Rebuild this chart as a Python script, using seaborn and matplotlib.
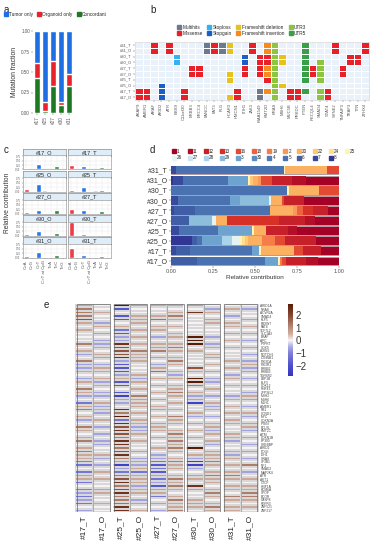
import numpy as np
import pandas as pd
import matplotlib
matplotlib.use("Agg")
import matplotlib.pyplot as plt
from matplotlib.colors import ListedColormap, LinearSegmentedColormap
from matplotlib.patches import Rectangle
from matplotlib.lines import Line2D
import seaborn as sns

sns.set_theme(style="white")
plt.rcParams["font.family"] = ["Liberation Sans", "DejaVu Sans"]
plt.rcParams["axes.linewidth"] = 0.4

# ---------------- data ----------------
# a: mutation fractions per patient
a_samples = ["#17", "#25", "#27", "#30", "#31"]
a_concordant = [0.43, 0.03, 0.33, 0.10, 0.33]
a_organoid = [0.18, 0.10, 0.30, 0.04, 0.15]
a_tumor = [0.39, 0.87, 0.37, 0.86, 0.52]

# b: mutation calls per gene, rows top->bottom as in b_rows
b_rows = ["#31_T", "#31_O", "#30_T", "#30_O", "#27_T", "#27_O", "#25_T", "#25_O", "#17_T", "#17_O"]
b_genes = ["AKAP9", "AMER1", "ARAF", "ARID2", "ATR", "BBS9", "C11orf30", "ERBB3", "ERCC4",
           "FANCC", "FAT3", "FLG", "HCAR3", "HMCN1", "ITIH1", "JAK3", "KIAA1549", "KMT2D",
           "KRAS", "MSH6", "MUC5B", "PRKDC", "PTEN", "RECQL4", "SMAD4", "STAT4", "SYNE2",
           "TNFAIP3", "TRAF3", "TTN", "ZFHX4"]
b_calls = ["........MM", "........MM", "MM........", ".......GGG", "MM........", "..LL......",
           "........MM", "....MM....", "....MM....", "HH........", "MM........", "HH........",
           "DD...DD..D", "........MM", "..GGMM....", "MM........", "..MMMM..HH", "IIMMIIM.I.",
           "3333333333", "..DD...D..", "........MM", "........MM", "5555555.5.", "....MM....",
           "...3333.33", "........MM", "MM........", "....MM....", "..MM......", "..MM......",
           "MM........"]
b_types = ["Multihits", "Missense", "Stoploss", "Stopgain", "Frameshift deletion",
           "Frameshift insertion", "UTR3", "UTR5"]
b_codes = {".": 0, "H": 1, "M": 2, "L": 3, "G": 4, "D": 5, "I": 6, "3": 7, "5": 8}

# c: 7-class mutation spectrum
c_types = ["C>A", "C>G", "C>T", "C>T at CpG", "T>A", "T>C", "T>G"]
c17_O = [0.10, 0.03, 0.30, 0.05, 0.04, 0.18, 0.05]
c17_T = [0.25, 0.03, 0.22, 0.04, 0.05, 0.12, 0.05]
c25_O = [0.12, 0.03, 0.45, 0.06, 0.04, 0.05, 0.04]
c25_T = [0.10, 0.03, 0.25, 0.05, 0.06, 0.10, 0.05]
c27_O = [0.07, 0.03, 0.22, 0.05, 0.05, 0.20, 0.05]
c27_T = [0.25, 0.03, 0.20, 0.05, 0.05, 0.12, 0.05]
c30_O = [0.07, 0.03, 0.28, 0.05, 0.05, 0.17, 0.05]
c30_T = [0.75, 0.02, 0.06, 0.02, 0.02, 0.05, 0.03]
c31_O = [0.06, 0.03, 0.30, 0.05, 0.05, 0.16, 0.05]
c31_T = [0.52, 0.02, 0.16, 0.03, 0.03, 0.08, 0.04]
c_values = {"#17_O": c17_O, "#17_T": c17_T, "#25_O": c25_O, "#25_T": c25_T,
            "#27_O": c27_O, "#27_T": c27_T, "#30_O": c30_O, "#30_T": c30_T,
            "#31_O": c31_O, "#31_T": c31_T}
c_grid = [("#17_O", "#17_T"), ("#25_O", "#25_T"), ("#27_O", "#27_T"),
          ("#30_O", "#30_T"), ("#31_O", "#31_T")]

# d: signature contributions
d_samples = ["#31_T", "#31_O", "#30_T", "#30_O", "#27_T", "#27_O", "#25_T", "#25_O", "#17_T", "#17_O"]
d_sigs = ["1", "11", "12", "13", "16", "18", "19", "2", "20", "22", "24", "25",
          "26", "27", "28", "29", "3", "30", "4", "5", "6", "7", "8"]
d31_T = {"7": 0.03, "5": 0.64, "25": 0.01, "20": 0.25, "16": 0.07}
d31_O = {"8": 0.012, "7": 0.06, "5": 0.27, "3": 0.12, "25": 0.01, "20": 0.03, "22": 0.018,
         "2": 0.018, "16": 0.07, "12": 0.12, "11": 0.08, "1": 0.2}
d30_T = {"5": 0.69, "25": 0.01, "20": 0.18, "16": 0.12}
d30_O = {"7": 0.04, "5": 0.31, "3": 0.06, "29": 0.17, "26": 0.014, "20": 0.065, "16": 0.014,
         "12": 0.115, "1": 0.21}
d27_T = {"7": 0.02, "6": 0.12, "5": 0.45, "20": 0.135, "2": 0.025, "18": 0.035, "13": 0.06,
         "12": 0.09, "1": 0.065}
d27_O = {"6": 0.105, "29": 0.14, "26": 0.025, "20": 0.065, "13": 0.305, "12": 0.16, "11": 0.06,
         "1": 0.14}
d25_T = {"7": 0.05, "5": 0.23, "3": 0.2, "25": 0.014, "20": 0.07, "12": 0.13, "11": 0.05, "1": 0.25}
d25_O = {"8": 0.125, "6": 0.03, "5": 0.03, "3": 0.12, "28": 0.06, "26": 0.04, "25": 0.02, "24": 0.02,
         "22": 0.014, "20": 0.085, "19": 0.08, "16": 0.06, "12": 0.18, "1": 0.14}
d17_T = {"7": 0.03, "6": 0.08, "5": 0.37, "3": 0.045, "25": 0.008, "20": 0.2, "16": 0.05,
         "12": 0.11, "1": 0.105}
d17_O = {"6": 0.155, "5": 0.405, "3": 0.08, "25": 0.01, "19": 0.016, "16": 0.024, "12": 0.12,
         "11": 0.07, "1": 0.125}
d_values = {"#31_T": d31_T, "#31_O": d31_O, "#30_T": d30_T, "#30_O": d30_O, "#27_T": d27_T,
            "#27_O": d27_O, "#25_T": d25_T, "#25_O": d25_O, "#17_T": d17_T, "#17_O": d17_O}

# e: expression z-scores, one digit per gene, value = (digit - 4) * 0.6
e_samples = ["#17_T", "#17_O", "#25_T", "#25_O", "#27_T", "#27_O", "#30_T", "#30_O", "#31_T", "#31_O"]
e_genes = ["ARID1A", "NRAS", "ACVR2A", "SMAD4", "KLF5", "FBXW7", "FAT4", "TCF7L2", "SLC1A3", "BRAF",
           "APC", "PTPRT", "SOX9", "AXIN2", "NOTCH1", "CTNNB1", "PIK3CA", "PIK3R1", "ERBB2", "ERBB3",
           "TGFBR2", "LRP1B", "ELF3", "CDK12", "RNF43", "ZFP36L2", "MSH2", "MSH6", "MLH1", "AMER1",
           "RB1", "CCND1", "MYC", "CDKN2A", "PTEN", "BCL9L", "KMT2C", "ATM", "CDKN1B", "EP300",
           "CREBBP", "ARID2", "POLE", "IDH1", "GNAS", "SF3B1", "NF1", "SMAD2", "MAP2K4", "ATR",
           "AKT1", "CTCF", "HNF1A", "KDM6A", "SPOP", "BCOR", "CASP8", "FGFR3", "ZNF521", "ZNF217"]
e17_T = "566615454446453463354354653425645346545645655624235246323243"
e17_O = "445443543433545343554535433453534543434334453434545443544544"
e25_T = "914114521338777831113511410334869287876886786303267867866288"
e25_O = "344535454545465554445354546355454553354544343335255535543345"
e27_T = "544524554345364343524543454345345435543445433212132313524343"
e27_O = "545654545545654565453545565454546554565656545655456565456556"
e30_T = "348444444999454444754996453304453434543449453003435483445354"
e30_O = "435435444343545345434334543453543455354534355654565545654565"
e31_T = "454345543454544454543545443545454554455344535454565455465455"
e31_O = "434434543434343435334343435343453435343434343464345455665454"
e_columns = [e17_T, e17_O, e25_T, e25_O, e27_T, e27_O, e30_T, e30_O, e31_T, e31_O]

# ---------------- styling ----------------
W, H = 375, 550
TXT = "#333333"


def box(x0, y0, x1, y1):
    # pixel box with top-left origin -> figure rect
    return [x0 / W, 1 - y1 / H, (x1 - x0) / W, (y1 - y0) / H]


def square(color):
    return Line2D([], [], marker="s", linestyle="", markersize=2.6, color=color)


fig = plt.figure(figsize=(3.75, 5.5), dpi=100)
for letter, (px, py) in zip("abcde", [(4, 10), (150, 10), (4, 150), (150, 150), (44, 305)]):
    fig.text(px / W, 1 - py / H, letter, fontsize=7, va="center", ha="left", color="#222222")

# ---------------- a ----------------
a_colors = ["#1e6fe3", "#e8232b", "#1d7a22"]
conc = np.array(a_concordant)
org = np.array(a_organoid)
tum = np.array(a_tumor)
axa = fig.add_axes(box(33, 31, 73, 113))
sns.barplot(x=a_samples, y=conc + org + tum, color=a_colors[0], saturation=1, width=0.82, ax=axa)
sns.barplot(x=a_samples, y=conc + org, color=a_colors[1], saturation=1, width=0.82, ax=axa)
sns.barplot(x=a_samples, y=conc, color=a_colors[2], saturation=1, width=0.82, ax=axa)
axa.set_ylim(0, 1)
axa.set_yticks([0, 0.25, 0.5, 0.75, 1.0])
axa.set_yticklabels(["0.00", "0.25", "0.50", "0.75", "1.00"])
axa.tick_params(labelsize=3.3, colors="#555555", length=1.2, width=0.3, pad=1, left=True, bottom=True)
plt.setp(axa.get_xticklabels(), rotation=90)
axa.set_ylabel("Mutation fraction", fontsize=4.9, color=TXT, labelpad=2)
sns.despine(ax=axa, left=True, bottom=True)
fig.legend([square(c) for c in a_colors], ["Tumor only", "Organoid only", "Concordant"],
           loc="upper left", bbox_to_anchor=(4 / W, 1 - 12 / H), ncol=3, fontsize=3.4,
           frameon=False, handlelength=0.8, handletextpad=0.2, columnspacing=1.0,
           borderpad=0, borderaxespad=0)

# ---------------- b ----------------
b_colors = ["#e9f2fb", "#6b7a8f", "#e8202a", "#34b1ee", "#1a5fc8", "#e8c21c", "#f58a1f", "#8cc63e", "#38a046"]
b_mat = np.array([[b_codes[ch] for ch in s] for s in b_calls]).T
axb = fig.add_axes(box(135, 42, 369, 100))
sns.heatmap(pd.DataFrame(b_mat, index=b_rows, columns=b_genes), cmap=ListedColormap(b_colors),
            vmin=-0.5, vmax=8.5, cbar=False, linewidths=0.5, linecolor="white",
            xticklabels=True, yticklabels=True, ax=axb)
axb.tick_params(labelsize=3.0, colors="#555555", length=1.2, width=0.3, pad=1, left=True, bottom=True)
plt.setp(axb.get_xticklabels(), rotation=90)
plt.setp(axb.get_yticklabels(), rotation=0)
for sp in axb.spines.values():
    sp.set_visible(True)
    sp.set_color("#cccccc")
fig.legend([square(c) for c in b_colors[1:]], b_types, loc="upper left",
           bbox_to_anchor=(177 / W, 1 - 25 / H), ncol=4, fontsize=3.4, frameon=False,
           handlelength=0.8, handletextpad=0.3, columnspacing=1.0, labelspacing=0.15,
           borderpad=0, borderaxespad=0)

# ---------------- c ----------------
c_colors = ["#ee3b48", "#9a9a9a", "#2a78e8", "#f3a6d6", "#f5b865", "#2f8a3a", "#f7b0c8"]
for r, pair in enumerate(c_grid):
    for k, s in enumerate(pair):
        x0 = 23 if k == 0 else 68
        y0 = 148.5 + 22 * r
        sax = fig.add_axes(box(x0, y0, x0 + 43, y0 + 7))
        sax.set_facecolor("#deedf8")
        sax.set_xticks([])
        sax.set_yticks([])
        for sp in sax.spines.values():
            sp.set_color("#777777")
            sp.set_linewidth(0.4)
        sax.text(0.5, 0.45, s, ha="center", va="center", fontsize=4, color="#222222",
                 transform=sax.transAxes)
        ax = fig.add_axes(box(x0, y0 + 7, x0 + 43, y0 + 21))
        sns.barplot(x=c_types, y=c_values[s], hue=c_types, palette=c_colors, legend=False,
                    saturation=1, width=0.8, ax=ax)
        ax.set_ylim(0, 0.8)
        ax.set_yticks([0, 0.25, 0.5, 0.75])
        ax.grid(True, color="#e6e6e6", linewidth=0.3)
        ax.set_axisbelow(True)
        for sp in ax.spines.values():
            sp.set_color("#888888")
            sp.set_linewidth(0.4)
        ax.set_xlabel("")
        ax.set_ylabel("")
        ax.tick_params(length=1, width=0.3, pad=0.8, colors="#555555",
                       left=(k == 0), bottom=(r == 4))
        if k == 0:
            ax.set_yticklabels(["0.00", "0.25", "0.50", "0.75"], fontsize=1.8)
        else:
            ax.set_yticklabels([])
        if r == 4:
            ax.set_xticks(range(len(c_types)))
            ax.set_xticklabels(c_types, rotation=90, fontsize=3.2)
        else:
            ax.set_xticklabels([])
fig.text(8 / W, 1 - 203 / H, "Relative contribution", rotation=90, ha="center", va="center",
         fontsize=4.8, color=TXT)

# ---------------- d ----------------
sig_colors = ["#a50026", "#b40f28", "#c6202a", "#d73027", "#e34a33", "#ee6240", "#f57d4a",
              "#f99858", "#fbb062", "#fdc877", "#fee090", "#fff3b8",
              "#e6f4f1", "#cce6f0", "#a9d3e8", "#8cbddb", "#6fa3cf", "#5a8cc2", "#4f7cb8",
              "#4a72b1", "#3f5ea6", "#374a9b", "#313695"]
d_table = pd.DataFrame([d_values[s] for s in d_samples], index=d_samples)
d_table = d_table.reindex(columns=d_sigs).fillna(0)
d_table = d_table.div(d_table.sum(axis=1), axis=0)
d_stack = d_table[d_sigs[::-1]].cumsum(axis=1)
axd = fig.add_axes(box(171, 165, 339, 266))
for i, sig in enumerate(d_sigs):
    sns.barplot(x=d_stack[sig].values, y=d_samples, orient="h", color=sig_colors[i],
                saturation=1, width=0.88, linewidth=0.5 if i == 0 else 0,
                edgecolor="#aaaaaa", ax=axd)
axd.set_xlim(0, 1)
axd.set_xticks([0, 0.25, 0.5, 0.75, 1.0])
axd.set_xticklabels(["0.00", "0.25", "0.50", "0.75", "1.00"])
axd.tick_params(axis="x", labelsize=4, colors="#555555", length=1.2, width=0.3, pad=1, bottom=True)
axd.tick_params(axis="y", labelsize=5, colors="#333333", length=1.2, width=0.3, pad=1, left=True)
axd.set_xlabel("Relative contribution", fontsize=4.6, color=TXT, labelpad=1)
axd.set_ylabel("")
sns.despine(ax=axd, left=True, bottom=True)
n1 = 12
d_order = []
for k in range(len(d_sigs) - n1):
    d_order += [k, n1 + k]
d_order += [n1 - 1]
fig.legend([square(sig_colors[k]) for k in d_order], [d_sigs[k] for k in d_order],
           loc="upper left", bbox_to_anchor=(172 / W, 1 - 149 / H), ncol=12, fontsize=3.3,
           frameon=False, handlelength=0.7, handletextpad=0.4, columnspacing=1.25,
           labelspacing=0.3, borderpad=0, borderaxespad=0)

# ---------------- e ----------------
e_table = pd.DataFrame({s: [(int(ch) - 4) * 0.6 for ch in col] for s, col in zip(e_samples, e_columns)},
                       index=e_genes)
e_vmin, e_vmax = -2.8, 2.85
e_anchor_vals = [-2.8, -2.0, -1.0, -0.5, 0.0, 0.5, 1.0, 2.0, 2.85]
e_anchor_cols = ["#3434bf", "#4e4ecc", "#7f7fd8", "#ababe6", "#f8f4f4", "#d2ada0", "#b88c7a",
                 "#874530", "#581c06"]
e_cmap = LinearSegmentedColormap.from_list(
    "e", [((v - e_vmin) / (e_vmax - e_vmin), c) for v, c in zip(e_anchor_vals, e_anchor_cols)])
axe = fig.add_axes(box(75, 304, 259, 512))
cax = fig.add_axes(box(288, 304, 293, 376))
sns.heatmap(e_table, cmap=e_cmap, vmin=e_vmin, vmax=e_vmax, linewidths=0.15, linecolor="#d8d8d8",
            xticklabels=True, yticklabels=True, cbar_ax=cax, cbar_kws={"ticks": [-2, -1, 0, 1, 2]},
            ax=axe)
axe.vlines([2, 4, 6, 8], 0, len(e_genes), color="white", linewidth=2.6)
for p in range(5):
    axe.add_patch(Rectangle((2 * p + 0.1, 0), 1.8, len(e_genes), fill=False,
                            edgecolor="#666666", linewidth=0.5, zorder=5))
    axe.vlines(2 * p + 1, 0, len(e_genes), color="#888888", linewidth=0.4, zorder=5)
axe.yaxis.tick_right()
axe.tick_params(axis="y", labelsize=2.3, length=0, pad=1, colors="#444444")
axe.tick_params(axis="x", labelsize=6, length=0, pad=2, colors="#222222")
plt.setp(axe.get_yticklabels(), rotation=0)
plt.setp(axe.get_xticklabels(), rotation=90)
cax.tick_params(labelsize=7, length=0, pad=2, colors="#333333")
axe.collections[0].colorbar.outline.set_visible(False)

fig.savefig("out.png", dpi=100)
